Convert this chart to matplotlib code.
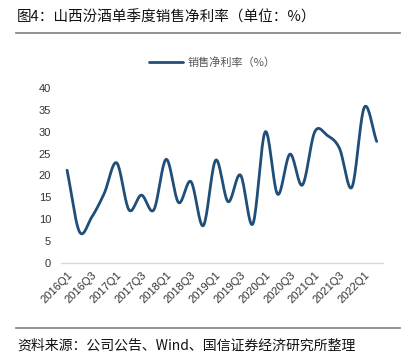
import matplotlib

matplotlib.use("Agg")
import matplotlib.pyplot as plt
import numpy as np

plt.rcParams["font.family"] = ["Noto Sans CJK SC", "DejaVu Sans"]

quarters = [f"{y}Q{q}" for y in range(2016, 2023) for q in range(1, 5)][:26]
net_margin = [21.2, 7.1, 10.5, 15.9, 22.9, 12.1, 15.5, 12.1, 23.7, 13.8,
              18.6, 8.5, 23.5, 14.0, 20.1, 8.9, 30.0, 15.7, 24.9, 17.8,
              30.0, 29.2, 26.2, 17.3, 35.6, 27.8]
tick_labels = quarters[::2]

LINE_COLOR = "#1f4e79"


def smooth(y, n=20):
    # catmull-rom through each point, like the office "smoothed line"
    y = np.asarray(y, dtype=float)
    pad = np.concatenate([[2 * y[0] - y[1]], y, [2 * y[-1] - y[-2]]])
    xs, ys = [], []
    for i in range(len(y) - 1):
        p0, p1, p2, p3 = pad[i:i + 4]
        m1 = (p2 - p0) / 2
        m2 = (p3 - p1) / 2
        t = np.linspace(0, 1, n, endpoint=False)
        h00 = 2 * t**3 - 3 * t**2 + 1
        h10 = t**3 - 2 * t**2 + t
        h01 = -2 * t**3 + 3 * t**2
        h11 = t**3 - t**2
        xs.append(i + t)
        ys.append(h00 * p1 + h10 * m1 + h01 * p2 + h11 * m2)
    xs.append([len(y) - 1])
    ys.append([y[-1]])
    return np.concatenate(xs), np.concatenate(ys)


fig = plt.figure(figsize=(4.06, 3.57), dpi=100)
ax = fig.add_axes([0.150, 0.264, 0.793, 0.489])

sx, sy = smooth(net_margin)
ax.plot(sx, sy, color=LINE_COLOR, lw=2.0, solid_capstyle="round",
        label="销售净利率（%）")

ax.set_xlim(-0.5, len(quarters) - 0.5)
ax.set_ylim(0, 40)
ax.set_yticks(range(0, 41, 5))
ax.set_xticks(range(0, len(quarters), 2))
ax.set_xticklabels(tick_labels, rotation=45, ha="right", rotation_mode="anchor")
ax.tick_params(length=0, labelsize=8, colors="#333333")
ax.tick_params(axis="x", pad=5)
ax.tick_params(axis="y", pad=7)
for lab in ax.get_xticklabels() + ax.get_yticklabels():
    lab.set_family(["Liberation Sans", "DejaVu Sans"])
for s in ["top", "right", "left"]:
    ax.spines[s].set_visible(False)
ax.spines["bottom"].set_color("#d9d9d9")
ax.spines["bottom"].set_linewidth(1.0)

leg = ax.legend(loc="lower center", bbox_to_anchor=(0.47, 1.06), frameon=False,
                fontsize=8, handlelength=3.0, handletextpad=0.4)
for t in leg.get_texts():
    t.set_color("#555555")

fig.text(0.042, 0.95, "图4：山西汾酒单季度销售净利率（单位：%）", fontsize=10.5,
         va="center", ha="left", color="#111111")
fig.add_artist(plt.Line2D([0.04, 0.985], [0.907, 0.907], color="#808080", lw=1.2))
fig.add_artist(plt.Line2D([0.04, 0.985], [0.081, 0.081], color="#808080", lw=1.2))
fig.text(0.042, 0.033, "资料来源：公司公告、Wind、国信证券经济研究所整理", fontsize=10,
         va="center", ha="left", color="#111111")

fig.savefig("out.png", dpi=100)
